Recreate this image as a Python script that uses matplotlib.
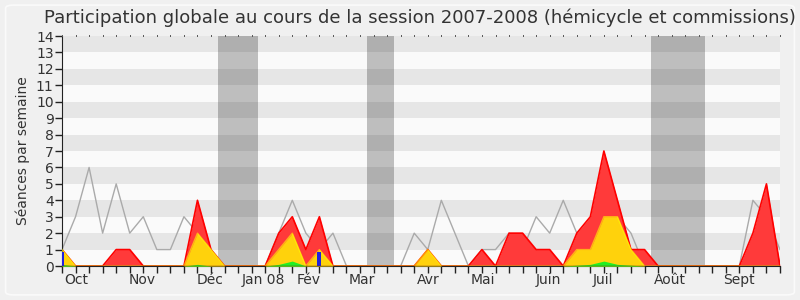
import numpy as np
import matplotlib
matplotlib.use('Agg')
import matplotlib.pyplot as plt
import matplotlib.transforms as mtransforms
from matplotlib.patches import FancyBboxPatch

# weekly values, session 2007-2008 (week 0 = start of October)
weeks = np.arange(54)
total = [1, 0, 0, 0, 1, 1, 0, 0, 0, 0, 4, 1, 0, 0, 0, 0, 2, 3, 1, 3,
         0, 0, 0, 0, 0, 0, 0, 1, 0, 0, 0, 1, 0, 2, 2, 1, 1, 0, 2, 3,
         7, 4, 1, 1, 0, 0, 0, 0, 0, 0, 0, 2, 5, 0]
hemicycle = [1, 0, 0, 0, 0, 0, 0, 0, 0, 0, 2, 1, 0, 0, 0, 0, 1, 2, 0, 1,
             0, 0, 0, 0, 0, 0, 0, 1, 0, 0, 0, 0, 0, 0, 0, 0, 0, 0, 1, 1,
             3, 3, 1, 0, 0, 0, 0, 0, 0, 0, 0, 0, 0, 0]
interventions = [0.1, 0, 0, 0, 0, 0, 0, 0, 0, 0, 0.1, 0, 0, 0, 0, 0, 0.1, 0.3, 0, 0,
                 0, 0, 0, 0, 0, 0, 0, 0, 0, 0, 0, 0, 0, 0, 0, 0, 0, 0, 0.05, 0.1,
                 0.3, 0.1, 0.05, 0, 0, 0, 0, 0, 0, 0, 0, 0, 0, 0]
median = [1, 3, 6, 2, 5, 2, 3, 1, 1, 3, 2, 1, 0, 0, 0, 0, 2, 4, 2, 1,
          2, 0, 0, 0, 0, 0, 2, 1, 4, 2, 0, 1, 1, 2, 1, 3, 2, 4, 2, 1,
          1, 3, 2, 0, 0, 0, 0, 0, 0, 0, 0, 4, 3, 1]
question_weeks = [0, 18.95]
question_vals = [0.87, 0.87]
vacances = [(11.5, 14.5), (22.5, 24.5), (43.5, 47.5)]
month_pos = [1.08, 5.93, 10.92, 14.86, 18.18, 22.12, 27.0, 31.1, 35.9, 39.95, 44.9, 50.0]
month_labels = ['Oct', 'Nov', 'Déc', 'Jan 08', 'Fév', 'Mar', 'Avr', 'Mai', 'Juin', 'Juil', 'Août', 'Sept']

fig = plt.figure(figsize=(8, 3), dpi=100, facecolor='#f0f0f0')
fig.patches.append(FancyBboxPatch((0.007, 0.017), 0.986, 0.966, boxstyle='round,pad=0,rounding_size=0.01',
                                  transform=fig.transFigure, facecolor='#f0f0f0', edgecolor='#fafafa',
                                  linewidth=1.2, zorder=-5))
ax = fig.add_axes([0.0775, 0.1133, 0.8975, 0.7667])
ax.set_facecolor('#fafafa')

for a, b in vacances:
    ax.axvspan(a, b, color='#bebebe', lw=0, zorder=0)
for y0 in range(1, 14, 2):
    ax.axhspan(y0, y0 + 1, color='black', alpha=0.08, lw=0, zorder=0.5)

ax.plot(weeks, median, color='#aaaaaa', lw=1, zorder=1)
ax.fill_between(weeks, total, color='#ff3a3a', lw=0, zorder=2)
ax.plot(weeks, total, color='#ff0000', lw=1.2, zorder=2.1)
ax.fill_between(weeks, hemicycle, color='#ffd20c', lw=0, zorder=3)
ax.plot(weeks, hemicycle, color='#ffff00', lw=1, alpha=0.6, zorder=3.1)
ax.fill_between(weeks, interventions, color='#22ee22', lw=0, zorder=4)
ax.bar(question_weeks, question_vals, width=0.3, color='#2222dd', zorder=5)
ax.axhline(0, color='#7a1a1a', lw=1, zorder=6)

ax.set_xlim(0, 53)
ax.set_ylim(0, 14)
ax.set_yticks(range(15))
ax.set_xticks(weeks)
ax.set_xticklabels([])
ax.tick_params(axis='x', direction='out', length=5, width=1, color='#222222')
ax.tick_params(axis='y', direction='out', length=5, width=1, color='#222222', pad=1,
               labelsize=10, labelcolor='#333333')
for side in ['top', 'right']:
    ax.spines[side].set_visible(False)
ax.spines['left'].set_color('#222222')
ax.spines['bottom'].set_color('#222222')

# month labels under the weekly ticks
trans = mtransforms.blended_transform_factory(ax.transData, ax.transAxes)
for pos, lab in zip(month_pos, month_labels):
    ax.text(pos, -0.03, lab, transform=trans, ha='center', va='top', fontsize=10, color='#333333')

# small dotted marks along the top edge
for w in weeks:
    ax.plot([w, w], [14, 14.06], color='#555555', lw=0.7, clip_on=False, zorder=7)

ax.set_ylabel('Séances par semaine', fontsize=10, color='#333333', labelpad=4)
fig.text(0.525, 0.94, 'Participation globale au cours de la session 2007-2008 (hémicycle et commissions)',
         ha='center', va='center', fontsize=13, color='#333333')

fig.savefig('out.png', dpi=100, facecolor=fig.get_facecolor())
